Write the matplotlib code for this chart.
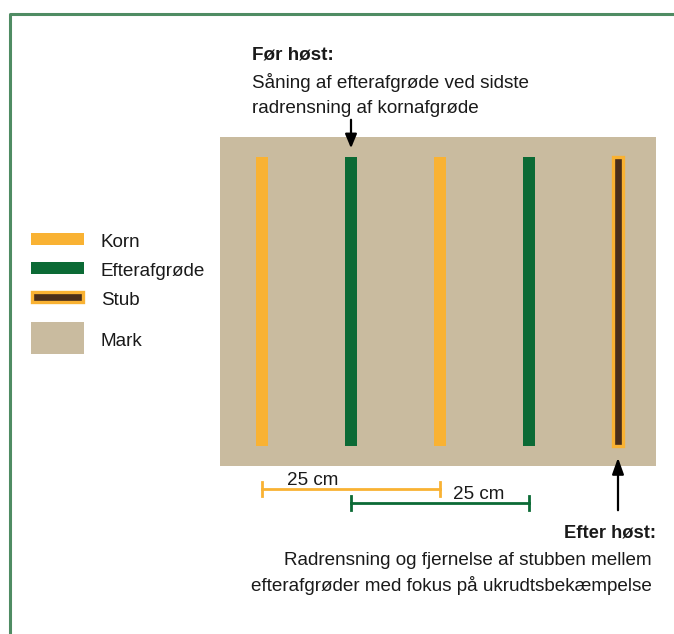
import numpy as np
import matplotlib
matplotlib.use("Agg")
import matplotlib.pyplot as plt
from matplotlib.patches import Rectangle

# data: rows across the field, in cm from the first korn row
row_types = ["Korn", "Efterafgrøde", "Korn", "Efterafgrøde", "Stub"]
row_pos_cm = [0, 12.5, 25, 37.5, 50]
spacing_spans = [(0, 25), (12.5, 37.5)]
spacing_labels = ["25 cm", "25 cm"]
legend_labels = ["Korn", "Efterafgrøde", "Stub", "Mark"]

title_before = "Før høst:"
lines_before = ["Såning af efterafgrøde ved sidste", "radrensning af kornafgrøde"]
title_after = "Efter høst:"
lines_after = ["Radrensning og fjernelse af stubben mellem",
               "efterafgrøder med fokus på ukrudtsbekæmpelse"]

colors = {"Korn": "#f9b233", "Efterafgrøde": "#0b6a35", "Stub": "#4a2e1a", "Mark": "#c9bb9f"}
border_col = "#4f8c63"
text_col = "#1a1a1a"

plt.rcParams['font.family'] = ['Liberation Sans', 'DejaVu Sans']

W, H = 674, 634
px = 7.12            # pixels per cm
x0 = 262             # pixel of first row
fig = plt.figure(figsize=(W / 100, H / 100), dpi=100)
ax = fig.add_axes([0, 0, 1, 1])
ax.set_xlim(-x0 / px, (W - x0) / px)
ax.set_ylim(H / px, 0)
ax.axis("off")

def cx(p):
    return (p - x0) / px

def cy(p):
    return p / px

fs = 13.6

# frame
ax.plot([cx(10.5), cx(10.5), cx(W + 5)], [cy(H + 5), cy(13.5), cy(13.5)],
        color=border_col, lw=2.2, solid_capstyle="projecting", clip_on=False)

# field
ax.add_patch(Rectangle((cx(220), cy(137)), (656 - 220) / px, (466 - 137) / px,
                       facecolor=colors["Mark"], edgecolor="none"))

w = 12 / px
top, bot = cy(157), cy(446)
for kind, pos in zip(row_types, row_pos_cm):
    if kind == "Stub":
        ax.add_patch(Rectangle((pos - w / 2 + 0.18, top), w - 0.36, bot - top,
                               facecolor=colors["Stub"], edgecolor=colors["Korn"], lw=2.4))
    else:
        ax.add_patch(Rectangle((pos - w / 2, top), w, bot - top,
                               facecolor=colors[kind], edgecolor="none"))

# spacing bars
bar_y = [cy(489), cy(503)]
bar_col = [colors["Korn"], colors["Efterafgrøde"]]
lab_xy = [(cx(313), cy(485)), (cx(479), cy(499))]
tick = 7 / px
for (a, b), yb, c, lab, (lx, ly) in zip(spacing_spans, bar_y, bar_col, spacing_labels, lab_xy):
    ax.plot([a, b], [yb, yb], color=c, lw=2)
    ax.plot([a, a], [yb - tick, yb + tick], color=c, lw=2)
    ax.plot([b, b], [yb - tick, yb + tick], color=c, lw=2)
    ax.text(lx, ly, lab, fontsize=fs, ha="center", va="baseline", color=text_col)

# legend
leg_y = [239, 268, 297]
leg_base = [247, 276, 305, 346]
for lab, yy in zip(legend_labels[:3], leg_y):
    if lab == "Stub":
        ax.add_patch(Rectangle((cx(32), cy(yy - 5)), 51 / px, 10 / px,
                               facecolor=colors["Stub"], edgecolor=colors["Korn"], lw=2.4))
    else:
        ax.add_patch(Rectangle((cx(31), cy(yy - 6)), 53 / px, 12 / px,
                               facecolor=colors[lab], edgecolor="none"))
ax.add_patch(Rectangle((cx(31), cy(322)), 53 / px, 32 / px,
                       facecolor=colors["Mark"], edgecolor="none"))
for lab, yb in zip(legend_labels, leg_base):
    ax.text(cx(101), cy(yb), lab, fontsize=fs, va="baseline", ha="left", color=text_col)

# annotations
ax.text(cx(252), cy(60), title_before, fontsize=fs, fontweight="bold", va="baseline",
        ha="left", color=text_col)
for line, yb in zip(lines_before, [88, 113]):
    ax.text(cx(252), cy(yb), line, fontsize=fs, va="baseline", ha="left", color=text_col)
ax.annotate("", xy=(row_pos_cm[1], cy(151)), xytext=(row_pos_cm[1], cy(117)),
            arrowprops=dict(arrowstyle="-|>,head_width=0.25,head_length=0.6",
                            color="black", lw=1.6, mutation_scale=14))

ax.text(cx(656), cy(538), title_after, fontsize=fs - 0.4, fontweight="bold", va="baseline",
        ha="right", color=text_col)
for line, yb in zip(lines_after, [565, 591]):
    ax.text(cx(652), cy(yb), line, fontsize=fs, va="baseline", ha="right", color=text_col)
ax.annotate("", xy=(row_pos_cm[4], cy(455)), xytext=(row_pos_cm[4], cy(513)),
            arrowprops=dict(arrowstyle="-|>,head_width=0.25,head_length=0.7",
                            color="black", lw=1.6, mutation_scale=14))

fig.savefig("out.png", dpi=100)
